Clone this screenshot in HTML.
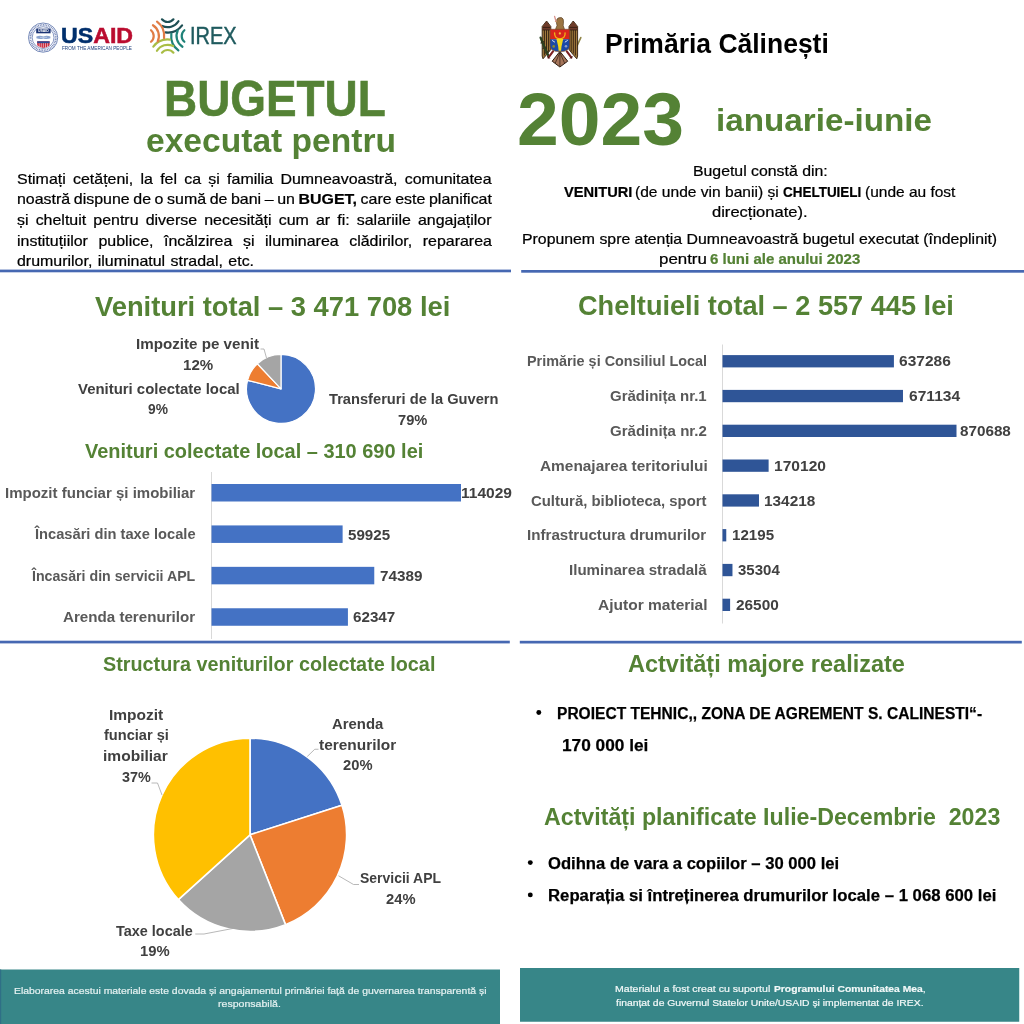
<!DOCTYPE html>
<html lang="ro"><head><meta charset="utf-8"><title>Bugetul executat 2023 – Primăria Călinești</title>
<style>
html,body{margin:0;padding:0;background:#fff;width:1024px;height:1024px;overflow:hidden}
#pg{position:relative;width:1024px;height:1024px;overflow:hidden;background:#fff;font-family:"Liberation Sans",sans-serif}
.t{position:absolute;white-space:pre;line-height:1;transform-origin:0 0;font-weight:normal}
.t.b{font-weight:bold}
.r{position:absolute}
svg{position:absolute;left:0;top:0}
</style></head>
<body><div id="pg">
<svg width="1024" height="1024" viewBox="0 0 1024 1024">
<rect x="0" y="269.6" width="511" height="2.7" fill="#4668B2"/>
<rect x="521.2" y="270" width="502.8" height="2.7" fill="#4668B2"/>
<rect x="0" y="640.7" width="509.8" height="2.7" fill="#4668B2"/>
<rect x="519.8" y="640.8" width="502" height="2.7" fill="#4668B2"/>
<rect x="0" y="969.5" width="500" height="54.5" fill="#378688"/>
<rect x="520" y="968" width="499.25" height="53.75" fill="#378688"/>
<rect x="0" y="969.5" width="1.2" height="54.5" fill="#2f6f86"/>
<rect x="211" y="472" width="1" height="167" fill="#d9d9d9"/>
<rect x="211.5" y="484" width="249.5" height="17.5" fill="#4472C4"/>
<rect x="211.5" y="525.42" width="131.12" height="17.5" fill="#4472C4"/>
<rect x="211.5" y="566.84" width="162.77" height="17.5" fill="#4472C4"/>
<rect x="211.5" y="608.26" width="136.42" height="17.5" fill="#4472C4"/>
<rect x="722" y="344.5" width="1" height="279" fill="#d9d9d9"/>
<rect x="722.5" y="355.1" width="171.41" height="12.3" fill="#2F5597"/>
<rect x="722.5" y="389.9" width="180.48" height="12.3" fill="#2F5597"/>
<rect x="722.5" y="424.7" width="234" height="12.3" fill="#2F5597"/>
<rect x="722.5" y="459.5" width="46.12" height="12.3" fill="#2F5597"/>
<rect x="722.5" y="494.3" width="36.49" height="12.3" fill="#2F5597"/>
<rect x="722.5" y="529.1" width="3.77" height="12.3" fill="#2F5597"/>
<rect x="722.5" y="563.9" width="9.97" height="12.3" fill="#2F5597"/>
<rect x="722.5" y="598.7" width="7.61" height="12.3" fill="#2F5597"/>
<circle cx="538.8" cy="712.5" r="2.45" fill="#000"/>
<circle cx="530.3" cy="862.6" r="2.45" fill="#000"/>
<circle cx="530.3" cy="894.9" r="2.45" fill="#000"/>
<path d="M281.00 388.90 L281.00 354.40 A34.5 34.5 0 1 1 247.58 380.32 Z" fill="#4472C4" stroke="#fff" stroke-width="1.2" stroke-linejoin="round"/><path d="M281.00 388.90 L247.58 380.32 A34.5 34.5 0 0 1 257.38 363.75 Z" fill="#ED7D31" stroke="#fff" stroke-width="1.2" stroke-linejoin="round"/><path d="M281.00 388.90 L257.38 363.75 A34.5 34.5 0 0 1 281.00 354.40 Z" fill="#A5A5A5" stroke="#fff" stroke-width="1.2" stroke-linejoin="round"/><path d="M250.00 834.80 L250.00 738.20 A96.6 96.6 0 0 1 342.00 805.34 Z" fill="#4472C4" stroke="#fff" stroke-width="1.6" stroke-linejoin="round"/><path d="M250.00 834.80 L342.00 805.34 A96.6 96.6 0 0 1 285.50 924.64 Z" fill="#ED7D31" stroke="#fff" stroke-width="1.6" stroke-linejoin="round"/><path d="M250.00 834.80 L285.50 924.64 A96.6 96.6 0 0 1 178.36 899.60 Z" fill="#A5A5A5" stroke="#fff" stroke-width="1.6" stroke-linejoin="round"/><path d="M250.00 834.80 L178.36 899.60 A96.6 96.6 0 0 1 250.00 738.20 Z" fill="#FFC000" stroke="#fff" stroke-width="1.6" stroke-linejoin="round"/><path d="M151.5 783 H157.5 L162 795" fill="none" stroke="#a6a6a6" stroke-width="0.8"/><path d="M318.5 749.25 H314.75 L307.25 756.5" fill="none" stroke="#a6a6a6" stroke-width="0.8"/><path d="M359 884.5 H353.5 L338.5 875.75" fill="none" stroke="#a6a6a6" stroke-width="0.8"/><path d="M195.25 934 H204 L234 928.25" fill="none" stroke="#a6a6a6" stroke-width="0.8"/><path d="M260.5 349 H264 L266.5 358" fill="none" stroke="#a6a6a6" stroke-width="0.8"/><defs><filter id="bl" x="-10%" y="-10%" width="120%" height="120%"><feGaussianBlur stdDeviation="0.35"/></filter></defs><g transform="translate(167.7 36)" fill="none" stroke-width="2.2" stroke-linecap="round"><path transform="rotate(0)" d="M-5.75 -16.68 A7.5 7.5 0 0 0 5.75 -16.68 M-5.47 -10.04 A12.7 12.7 0 0 0 10.76 -14.75 M-2.13 -3.63 A18 18 0 0 0 14.38 -10.67" stroke="#1e4f54"/><path transform="rotate(90)" d="M-5.75 -16.68 A7.5 7.5 0 0 0 5.75 -16.68 M-5.47 -10.04 A12.7 12.7 0 0 0 10.76 -14.75 M-2.13 -3.63 A18 18 0 0 0 14.38 -10.67" stroke="#1f8278"/><path transform="rotate(180)" d="M-5.75 -16.68 A7.5 7.5 0 0 0 5.75 -16.68 M-5.47 -10.04 A12.7 12.7 0 0 0 10.76 -14.75 M-2.13 -3.63 A18 18 0 0 0 14.38 -10.67" stroke="#a9bd45"/><path transform="rotate(270)" d="M-5.75 -16.68 A7.5 7.5 0 0 0 5.75 -16.68 M-5.47 -10.04 A12.7 12.7 0 0 0 10.76 -14.75 M-2.13 -3.63 A18 18 0 0 0 14.38 -10.67" stroke="#e07c45"/></g><g><circle cx="43.1" cy="37.6" r="14.6" fill="#fff" stroke="#3a569a" stroke-width="0.7"/><circle cx="43.1" cy="37.6" r="12.7" fill="none" stroke="#7486b8" stroke-width="1.9" stroke-dasharray="0.9 0.75"/><circle cx="43.1" cy="37.6" r="10.9" fill="#fff" stroke="#3a569a" stroke-width="0.6"/><rect x="36.2" y="28.7" width="14.4" height="4.6" fill="#1b3474"/><text x="43.4" y="32.4" font-family="Liberation Sans, sans-serif" font-weight="bold" font-size="3.6" fill="#fff" text-anchor="middle" textLength="11" lengthAdjust="spacingAndGlyphs">USAID</text><path d="M36.4 36.6 Q39.5 35.2 43.4 36.4 Q47 35.2 50.4 36.6 L50.4 38.2 Q47 39.6 43.4 38.4 Q39.8 39.6 36.4 38.2 Z" fill="#8aa3cf"/><path d="M40 37.4 H47" stroke="#d5def0" stroke-width="0.6"/><path d="M37.2 41.3 H49.6 V44.5 Q49.6 47 43.4 47.9 Q37.2 47 37.2 44.5 Z" fill="#c9283c"/><path d="M37.2 41.3 H49.6 V43.2 H37.2 Z" fill="#2a4a96"/><path d="M39.2 43.2 V47.6" stroke="#fff" stroke-width="0.55"/><path d="M41.3 43.2 V47.6" stroke="#fff" stroke-width="0.55"/><path d="M43.4 43.2 V47.6" stroke="#fff" stroke-width="0.55"/><path d="M45.5 43.2 V47.6" stroke="#fff" stroke-width="0.55"/><path d="M47.6 43.2 V47.6" stroke="#fff" stroke-width="0.55"/></g><g filter="url(#bl)"><path d="M577 46 L580.8 37.6" stroke="#8f8445" stroke-width="1.6" fill="none" stroke-linecap="round"/><path d="M546.6 21 L550.8 26.5 V49.5 L547.2 54 L543 58.8 L542.2 56 V26.5 Z" fill="#a07a3c" stroke="#2e1c10" stroke-width="0.9" stroke-linejoin="round"/><path d="M546.6 21.4 L550.4 26.6 V30 H542.6 V26.6 Z" fill="#6e3b2b"/><path d="M544.4 30 V55.5 M546.5 30 V53.5 M548.6 30 V51.5" stroke="#2e1c10" stroke-width="0.9" fill="none"/><path d="M542.6 30 H550.6 M542.8 27.4 H550.4" stroke="#2e1c10" stroke-width="0.8" fill="none"/><path d="M573.2 21 L569 26.5 V49.5 L572.6 54 L576.8 58.8 L577.6 56 V26.5 Z" fill="#a07a3c" stroke="#2e1c10" stroke-width="0.9" stroke-linejoin="round"/><path d="M573.2 21.4 L569.4 26.6 V30 H577.2 V26.6 Z" fill="#6e3b2b"/><path d="M575.4 30 V55.5 M573.3 30 V53.5 M571.2 30 V51.5" stroke="#2e1c10" stroke-width="0.9" fill="none"/><path d="M569.2 30 H577.2 M569.4 27.4 H577" stroke="#2e1c10" stroke-width="0.8" fill="none"/><path d="M540.6 37.6 Q543.4 46 548.4 55.6" stroke="#2c4220" stroke-width="2.3" fill="none" stroke-linecap="round"/><path d="M541 43 L543.6 41.6 M543 48.5 L546 47 M545.4 53 L548 51.4" stroke="#33351c" stroke-width="1.2" stroke-linecap="round"/><path d="M553 51.4 L548.4 57.6 M566.8 51.4 L571.4 57.6" stroke="#7c2024" stroke-width="2.1" stroke-linecap="round"/><path d="M549.4 58.2 L547.6 56.4 M570.4 58.2 L572.2 56.4" stroke="#2e1c10" stroke-width="1" stroke-linecap="round"/><path d="M559.9 51.4 L552.2 61.2 L559.9 67 L567.7 61.2 Z" fill="#a5745a" stroke="#2e1c10" stroke-width="1" stroke-linejoin="round"/><path d="M559.9 52.5 L555.2 63.2 M559.9 52.5 L559.9 66 M559.9 52.5 L564.6 63.2" stroke="#2e1c10" stroke-width="0.7"/><path d="M555.4 29.6 L557 25.5 Q555.6 21.5 557 19 Q558.6 17.2 561.4 17.6 Q563.8 18.4 563.5 22 L563.2 25.5 L564.6 29.6 Z" fill="#9b7443" stroke="#4a3218" stroke-width="0.6"/><path d="M557 20.4 L554.6 21.6 L557 22.6" fill="#b98a55"/><path d="M554.6 16.4 L555.9 21" stroke="#d9938c" stroke-width="1.3" stroke-linecap="round"/><path d="M550 29.3 H569.7 V39.4 H550 Z" fill="#d8281c"/><path d="M550 39.2 H569.7 V45.5 Q569.7 51.6 559.85 51.6 Q550 51.6 550 45.5 Z" fill="#1b48a6"/><path d="M550 29.3 H569.7 V45.5 Q569.7 51.6 559.85 51.6 Q550 51.6 550 45.5 Z" fill="none" stroke="#7a4a28" stroke-width="0.7"/><path d="M554.6 32.8 Q554.2 38.4 559.85 38.8 Q565.5 38.4 565.1 32.8" fill="none" stroke="#f0b418" stroke-width="1.3" stroke-linecap="round"/><path d="M556.4 38.8 H563.3 L561.5 46.5 L561.1 50.8 H558.6 L558.2 46.5 Z" fill="#f3d71c"/><circle cx="559.85" cy="33.4" r="1.1" fill="#f6c143"/><circle cx="553.7" cy="46.4" r="1.3" fill="#8c8a2a"/><circle cx="566" cy="46.2" r="1.3" fill="#8b9cc8"/><path d="M552.4 40.6 L554.6 42 M567.4 40.6 L565.2 42" stroke="#e9eef6" stroke-width="0.9" stroke-linecap="round"/></g></svg>
<span class="t b" style="left:60.51px;top:25.00px;font-size:21.2px;color:#002F6C;transform:scaleX(1.0936);-webkit-text-stroke-width:0.5px"><span style="color:#002F6C">US</span><span style="color:#BA0C2F">AID</span></span>
<span class="t" style="left:61.83px;top:46.00px;font-size:5.0px;color:#1c3f7c;transform:scaleX(0.9330)">FROM THE AMERICAN PEOPLE</span>
<span class="t" style="left:190.10px;top:25.00px;font-size:23.0px;color:#1f5a5e;transform:scaleX(0.8688);-webkit-text-stroke-width:0.45px">IREX</span>
<span class="t b" style="left:163.85px;top:74.00px;font-size:50.0px;color:#548235;transform:scaleX(0.9175);-webkit-text-stroke-width:0.6px">BUGETUL</span>
<span class="t b" style="left:145.99px;top:125.00px;font-size:32.8px;color:#548235;transform:scaleX(1.0238)">executat pentru</span>
<span class="t b" style="left:604.91px;top:29.00px;font-size:28.4px;color:#000000;transform:scaleX(0.9331)">Primăria Călinești</span>
<span class="t b" style="left:517.25px;top:82.00px;font-size:75.0px;color:#548235;transform:scaleX(1.0007)">2023</span>
<span class="t b" style="left:715.76px;top:104.00px;font-size:32.2px;color:#548235;transform:scaleX(1.0323)">ianuarie-iunie</span>
<span class="t" style="left:692.73px;top:164.00px;font-size:14.5px;color:#000000;transform:scaleX(1.0918);-webkit-text-stroke-width:0.22px">Bugetul constă din:</span>
<span class="t b" style="left:564.00px;top:185.00px;font-size:14.5px;color:#000000;transform:scaleX(1.0100);-webkit-text-stroke-width:0.22px">VENITURI</span>
<span class="t" style="left:635.32px;top:185.00px;font-size:14.5px;color:#000000;transform:scaleX(1.0736);-webkit-text-stroke-width:0.22px">(de unde vin banii) și</span>
<span class="t b" style="left:782.96px;top:185.00px;font-size:14.5px;color:#000000;transform:scaleX(0.9289);-webkit-text-stroke-width:0.22px">CHELTUIELI</span>
<span class="t" style="left:865.07px;top:185.00px;font-size:14.5px;color:#000000;transform:scaleX(1.0680);-webkit-text-stroke-width:0.22px">(unde au fost</span>
<span class="t" style="left:711.84px;top:205.00px;font-size:14.5px;color:#000000;transform:scaleX(1.1407);-webkit-text-stroke-width:0.22px">direcționate).</span>
<span class="t" style="left:521.73px;top:232.00px;font-size:14.5px;color:#000000;transform:scaleX(1.0916);-webkit-text-stroke-width:0.22px">Propunem spre atenția Dumneavoastră bugetul executat (îndeplinit)</span>
<span class="t" style="left:658.99px;top:252.00px;font-size:14.5px;color:#000000;transform:scaleX(1.1646);-webkit-text-stroke-width:0.22px">pentru</span>
<span class="t b" style="left:710.30px;top:252.00px;font-size:14.5px;color:#548235;transform:scaleX(1.0358);-webkit-text-stroke-width:0.22px">6 luni ale anului 2023</span>
<span class="t b" style="left:95.00px;top:293.00px;font-size:27.9px;color:#548235;transform:scaleX(0.9793)">Venituri total – 3 471 708 lei</span>
<span class="t b" style="left:578.41px;top:292.00px;font-size:27.9px;color:#548235;transform:scaleX(0.9736)">Cheltuieli total – 2 557 445 lei</span>
<span class="t b" style="left:85.00px;top:440.00px;font-size:21.1px;color:#548235;transform:scaleX(0.9459)">Venituri colectate local – 310 690 lei</span>
<span class="t b" style="left:103.10px;top:653.00px;font-size:21.1px;color:#548235;transform:scaleX(0.9389)">Structura veniturilor colectate local</span>
<span class="t b" style="left:627.78px;top:653.00px;font-size:23.2px;color:#548235;transform:scaleX(1.0136)">Actvități majore realizate</span>
<span class="t b" style="left:544.04px;top:806.00px;font-size:23.2px;color:#548235;transform:scaleX(1.0002)">Actvități planificate Iulie-Decembrie  2023</span>
<span class="t b" style="left:136.09px;top:337.00px;font-size:14.8px;color:#404040;transform:scaleX(1.0241)">Impozite pe venit</span>
<span class="t b" style="left:183.09px;top:358.00px;font-size:14.8px;color:#404040;transform:scaleX(1.0193)">12%</span>
<span class="t b" style="left:78.00px;top:382.00px;font-size:14.8px;color:#404040;transform:scaleX(1.0085)">Venituri colectate local</span>
<span class="t b" style="left:148.34px;top:402.00px;font-size:14.8px;color:#404040;transform:scaleX(0.9316)">9%</span>
<span class="t b" style="left:328.85px;top:392.00px;font-size:14.8px;color:#404040;transform:scaleX(0.9910)">Transferuri de la Guvern</span>
<span class="t b" style="left:398.41px;top:413.00px;font-size:14.8px;color:#404040;transform:scaleX(0.9914)">79%</span>
<span class="t b" style="left:5.35px;top:486.00px;font-size:14.6px;color:#595959;transform:scaleX(1.0288)">Impozit funciar și imobiliar</span>
<span class="t b" style="left:35.23px;top:527.00px;font-size:14.6px;color:#595959;transform:scaleX(1.0049)">Încasări din taxe locale</span>
<span class="t b" style="left:31.96px;top:569.00px;font-size:14.6px;color:#595959;transform:scaleX(0.9707)">Încasări din servicii APL</span>
<span class="t b" style="left:63.45px;top:610.00px;font-size:14.6px;color:#595959;transform:scaleX(1.0378)">Arenda terenurilor</span>
<span class="t b" style="left:461.07px;top:486.00px;font-size:14.8px;color:#404040;transform:scaleX(1.0499)">114029</span>
<span class="t b" style="left:348.05px;top:528.00px;font-size:14.8px;color:#404040;transform:scaleX(1.0230)">59925</span>
<span class="t b" style="left:379.89px;top:569.00px;font-size:14.8px;color:#404040;transform:scaleX(1.0305)">74389</span>
<span class="t b" style="left:353.04px;top:610.00px;font-size:14.8px;color:#404040;transform:scaleX(1.0267)">62347</span>
<span class="t b" style="left:527.39px;top:354.00px;font-size:14.6px;color:#595959;transform:scaleX(0.9865)">Primărie și Consiliul Local</span>
<span class="t b" style="left:610.15px;top:389.00px;font-size:14.6px;color:#595959;transform:scaleX(1.0279)">Grădinița nr.1</span>
<span class="t b" style="left:610.15px;top:424.00px;font-size:14.6px;color:#595959;transform:scaleX(1.0295)">Grădinița nr.2</span>
<span class="t b" style="left:539.69px;top:459.00px;font-size:14.6px;color:#595959;transform:scaleX(1.0555)">Amenajarea teritoriului</span>
<span class="t b" style="left:530.90px;top:494.00px;font-size:14.6px;color:#595959;transform:scaleX(1.0213)">Cultură, biblioteca, sport</span>
<span class="t b" style="left:527.34px;top:528.00px;font-size:14.6px;color:#595959;transform:scaleX(1.0377)">Infrastructura drumurilor</span>
<span class="t b" style="left:568.59px;top:563.00px;font-size:14.6px;color:#595959;transform:scaleX(1.0347)">Iluminarea stradală</span>
<span class="t b" style="left:597.94px;top:598.00px;font-size:14.6px;color:#595959;transform:scaleX(1.0639)">Ajutor material</span>
<span class="t b" style="left:899.28px;top:354.00px;font-size:14.8px;color:#404040;transform:scaleX(1.0484)">637286</span>
<span class="t b" style="left:908.78px;top:389.00px;font-size:14.8px;color:#404040;transform:scaleX(1.0533)">671134</span>
<span class="t b" style="left:959.54px;top:424.00px;font-size:14.8px;color:#404040;transform:scaleX(1.0298)">870688</span>
<span class="t b" style="left:774.32px;top:459.00px;font-size:14.8px;color:#404040;transform:scaleX(1.0529)">170120</span>
<span class="t b" style="left:764.33px;top:494.00px;font-size:14.8px;color:#404040;transform:scaleX(1.0393)">134218</span>
<span class="t b" style="left:731.84px;top:528.00px;font-size:14.8px;color:#404040;transform:scaleX(1.0218)">12195</span>
<span class="t b" style="left:738.20px;top:563.00px;font-size:14.8px;color:#404040;transform:scaleX(1.0143)">35304</span>
<span class="t b" style="left:735.54px;top:598.00px;font-size:14.8px;color:#404040;transform:scaleX(1.0392)">26500</span>
<span class="t b" style="left:109.32px;top:708.00px;font-size:14.8px;color:#404040;transform:scaleX(1.0470)">Impozit</span>
<span class="t b" style="left:103.85px;top:728.00px;font-size:14.8px;color:#404040;transform:scaleX(0.9861)">funciar și</span>
<span class="t b" style="left:103.07px;top:749.00px;font-size:14.8px;color:#404040;transform:scaleX(1.0510)">imobiliar</span>
<span class="t b" style="left:121.71px;top:770.00px;font-size:14.8px;color:#404040;transform:scaleX(0.9727)">37%</span>
<span class="t b" style="left:331.95px;top:717.00px;font-size:14.8px;color:#404040;transform:scaleX(1.0069)">Arenda</span>
<span class="t b" style="left:318.85px;top:738.00px;font-size:14.8px;color:#404040;transform:scaleX(1.0443)">terenurilor</span>
<span class="t b" style="left:343.06px;top:758.00px;font-size:14.8px;color:#404040;transform:scaleX(0.9950)">20%</span>
<span class="t b" style="left:360.22px;top:871.00px;font-size:14.8px;color:#404040;transform:scaleX(0.9444)">Servicii APL</span>
<span class="t b" style="left:386.06px;top:892.00px;font-size:14.8px;color:#404040;transform:scaleX(0.9950)">24%</span>
<span class="t b" style="left:116.36px;top:924.00px;font-size:14.8px;color:#404040;transform:scaleX(0.9754)">Taxe locale</span>
<span class="t b" style="left:140.11px;top:944.00px;font-size:14.8px;color:#404040;transform:scaleX(1.0018)">19%</span>
<span class="t b" style="left:556.57px;top:705.00px;font-size:17.4px;color:#000000;transform:scaleX(0.8948);-webkit-text-stroke-width:0.25px">PROIECT TEHNIC,, ZONA DE AGREMENT S. CALINESTI“-</span>
<span class="t b" style="left:561.71px;top:737.00px;font-size:17.4px;color:#000000;transform:scaleX(0.9929);-webkit-text-stroke-width:0.25px">170 000 lei</span>
<span class="t b" style="left:548.33px;top:855.00px;font-size:17.4px;color:#000000;transform:scaleX(0.9562);-webkit-text-stroke-width:0.25px">Odihna de vara a copiilor – 30 000 lei</span>
<span class="t b" style="left:548.00px;top:887.00px;font-size:17.4px;color:#000000;transform:scaleX(0.9624);-webkit-text-stroke-width:0.25px">Reparația si întreținerea drumurilor locale – 1 068 600 lei</span>
<span class="t" style="left:13.67px;top:986.00px;font-size:9.5px;color:#e4f1f1;transform:scaleX(1.0951);-webkit-text-stroke-width:0.2px">Elaborarea acestui materiale este dovada și angajamentul primăriei față de guvernarea transparentă și</span>
<span class="t" style="left:218.37px;top:999.00px;font-size:9.5px;color:#e4f1f1;transform:scaleX(1.1115);-webkit-text-stroke-width:0.2px">responsabilă.</span>
<span class="t" style="left:614.91px;top:984.00px;font-size:9.5px;color:#f2f8f8;transform:scaleX(1.1095);-webkit-text-stroke-width:0.2px">Materialul a fost creat cu suportul</span>
<span class="t" style="left:773.63px;top:984.00px;font-size:9.5px;color:#f2f8f8;transform:scaleX(1.0832);-webkit-text-stroke-width:0.2px"><b>Programului Comunitatea Mea</b>,</span>
<span class="t" style="left:615.65px;top:998.00px;font-size:9.5px;color:#f2f8f8;transform:scaleX(1.0906);-webkit-text-stroke-width:0.2px">finanțat de Guvernul Statelor Unite/USAID și implementat de IREX.</span>
<span class="t" style="left:16.86px;top:172.00px;font-size:14.5px;color:#000;-webkit-text-stroke-width:0.22px;word-spacing:2.552px;transform:scaleX(1.1000)">Stimați cetățeni, la fel ca și familia Dumneavoastră, comunitatea</span>
<span class="t" style="left:16.54px;top:192.00px;font-size:14.5px;color:#000;-webkit-text-stroke-width:0.22px;word-spacing:-0.763px;transform:scaleX(1.1000)">noastră dispune de o sumă de bani – un <b>BUGET,</b> care este planificat</span>
<span class="t" style="left:17.18px;top:213.00px;font-size:14.5px;color:#000;-webkit-text-stroke-width:0.22px;word-spacing:2.442px;transform:scaleX(1.1000)">și cheltuit pentru diverse necesități cum ar fi: salariile angajaților</span>
<span class="t" style="left:16.54px;top:234.00px;font-size:14.5px;color:#000;-webkit-text-stroke-width:0.22px;word-spacing:5.601px;transform:scaleX(1.1000)">instituțiilor publice, încălzirea și iluminarea clădirilor, repararea</span>
<span class="t" style="left:16.86px;top:254.00px;font-size:14.5px;color:#000;-webkit-text-stroke-width:0.22px;word-spacing:0.914px;transform:scaleX(1.1000)">drumurilor, iluminatul stradal, etc.</span>
</div></body></html>
